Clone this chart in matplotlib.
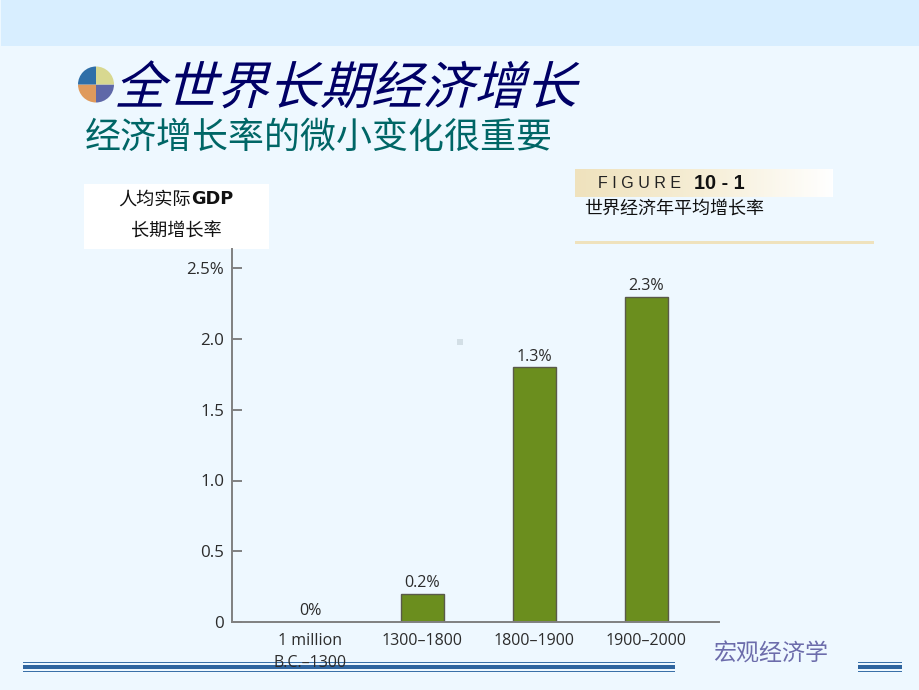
import numpy as np
import matplotlib
matplotlib.use('Agg')
import matplotlib.pyplot as plt
import matplotlib.patheffects as pe
from matplotlib.patches import Rectangle, Wedge
from matplotlib.transforms import Affine2D

CJK = ['Noto Sans CJK SC', 'DejaVu Sans']

# Data (the 1800-1900 bar really is drawn at 1.8 but labelled 1.3%)
periods = ['1 million\nB.C.\u20131300', '1300\u20131800', '1800\u20131900', '1900\u20132000']
growth = [0, 0.2, 1.8, 2.3]
bar_labels = ['0%', '0.2%', '1.3%', '2.3%']
y_ticks = [0, 0.5, 1.0, 1.5, 2.0, 2.5]
y_tick_labels = ['0', '0.5', '1.0', '1.5', '2.0', '2.5%']

W, H = 920, 690
BG = '#eef8ff'


# slants the glyph outlines, the CJK fonts have no italic
class Slant(pe.AbstractPathEffect):
    def __init__(self, deg):
        super().__init__()
        self.deg = deg

    def draw_path(self, renderer, gc, tpath, affine, rgbFace=None):
        renderer.draw_path(gc, tpath, Affine2D().skew_deg(self.deg, 0) + affine, rgbFace)


fig = plt.figure(figsize=(W / 100, H / 100), dpi=100, facecolor=BG)

# background layer in pixel coordinates
bg = fig.add_axes([0, 0, 1, 1], zorder=0)
bg.set_axis_off()

bg.add_patch(Rectangle((1, 0), W, 46, fc='#d8eeff', ec='none'))

# title marker
cx, cy, r = 96, 84.5, 18
for a, col in zip([0, 90, 180, 270], ['#5f68a8', '#df9a5c', '#2f6fa8', '#d8d890']):
    bg.add_patch(Wedge((cx, cy), r, a, a + 90, fc=col, ec='none'))

t = bg.text(114, 104, '全世界长期经济增长', fontsize=37, color='#000066', family=CJK,
            weight='medium', ha='left', va='baseline')
t.set_path_effects([Slant(15)])
bg.text(85, 148, '经济增长率的微小变化很重要', fontsize=25.9, color='#006666', family=CJK,
        ha='left', va='baseline')

# y label box
bg.add_patch(Rectangle((84, 184), 185, 65, fc='white', ec='none'))
bg.text(191, 200, '人均实际', fontsize=13.1, color='#111111', family=CJK, ha='right', va='center')
bg.text(191, 199, 'GDP', fontsize=12.8, color='#111111', family='DejaVu Sans', weight='bold',
        ha='left', va='center')
bg.text(176, 232, '长期增长率', fontsize=13.1, color='#111111', family=CJK, ha='center', va='center')

# figure caption
grad = np.linspace(0, 1, 256).reshape(1, -1)
cmap = matplotlib.colors.LinearSegmentedColormap.from_list('tan', ['#efe2bd', '#f6eed6', '#ffffff'])
bg.imshow(grad, extent=(575, 833, 197, 169), aspect='auto', cmap=cmap)
bg.text(598, 183.5, 'F I G U R E', fontsize=11.5, color='#222222', family='Liberation Sans',
        ha='left', va='center')
bg.text(694, 183.5, '10 - 1', fontsize=14.3, color='#111111', family='Liberation Sans',
        weight='bold', ha='left', va='center')
bg.text(584, 209, '世界经济年平均增长率', fontsize=13, color='#111111', family=CJK,
        ha='left', va='center')
bg.add_patch(Rectangle((575, 241), 299, 2.5, fc='#efe2bd', ec='none'))

# stray dot in the middle of the slide
bg.add_patch(Rectangle((457, 339), 6, 6, fc='#d3dfe6', ec='none'))

# footer stripes
for x0, x1 in [(23, 675), (858, 902)]:
    bg.add_patch(Rectangle((x0, 661.5), x1 - x0, 1.5, fc='#3a70a8', ec='none'))
    bg.add_patch(Rectangle((x0, 665), x1 - x0, 4, fc='#2f659f', ec='none'))
    bg.add_patch(Rectangle((x0, 670.5), x1 - x0, 1.5, fc='#3a70a8', ec='none'))
bg.text(713, 654, '宏观经济学', fontsize=16.6, color='#6c6cab', family=CJK, ha='left', va='center')

bg.set_xlim(0, W)
bg.set_ylim(H, 0)

# bar chart, 141.5 px per unit and 112 px per category
ax = fig.add_axes([232.5 / W, (H - 622) / H, 486.5 / W, 373 / H], zorder=1)
ax.patch.set_alpha(0)
x = np.arange(len(periods))
ax.bar(x[1:], growth[1:], width=0.385, color='#6b8e1e', edgecolor='#5a5a4a', linewidth=1)
for xi, v, lab in zip(x, growth, bar_labels):
    ax.annotate(lab, (xi, v), xytext=(0, 2), textcoords='offset points', ha='center', va='bottom',
                fontsize=11.6, color='#2c2c2c', family='Open Sans')

ax.set_xlim(-0.696, 3.647)
ax.set_ylim(0, 373 / 141.5)
ax.set_xticks(x, periods, fontsize=11.5, color='#2c2c2c', family='Open Sans', linespacing=1.45)
ax.set_yticks(y_ticks, y_tick_labels, fontsize=12.2, color='#2c2c2c', family='Open Sans')
ax.tick_params(axis='x', length=0, pad=8)
ax.tick_params(axis='y', direction='in', length=7, width=1.3, color='#777777', pad=6)
for s in ['top', 'right']:
    ax.spines[s].set_visible(False)
for s in ['left', 'bottom']:
    ax.spines[s].set_color('#808080')
    ax.spines[s].set_linewidth(1.4)

fig.savefig('out.png', dpi=100, facecolor=BG)
